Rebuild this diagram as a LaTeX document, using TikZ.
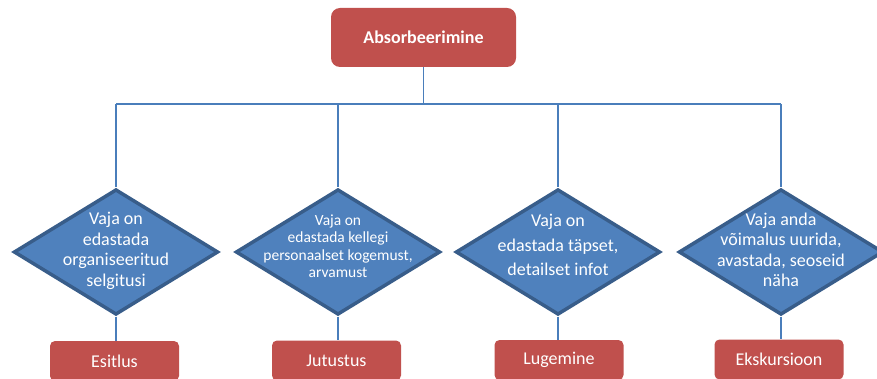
\documentclass[tikz,border=0pt]{standalone}
\usepackage{fontspec}
\setmainfont{Carlito}
\usetikzlibrary{shapes.geometric}
\definecolor{boxred}{HTML}{C0504D}
\definecolor{qblue}{HTML}{4F81BD}
\definecolor{qedge}{HTML}{385D8A}
\definecolor{wirecol}{HTML}{4A7EBB}
\begin{document}
\begin{tikzpicture}[x=1pt,y=-1pt,
  topbox/.style={fill=boxred, rounded corners=9pt, minimum width=185pt, minimum height=59pt,
    inner sep=0pt, text=white, font=\fontsize{18}{21}\selectfont\bfseries},
  answer/.style={fill=boxred, rounded corners=5pt, minimum width=129pt, minimum height=40pt,
    inner sep=0pt, text=white, font=\fontsize{18}{21}\selectfont},
  decision/.style={diamond, draw=qedge, line width=3.5pt, fill=qblue,
    minimum width=204.5pt, minimum height=125.5pt, inner sep=0pt},
  qtext/.style={text=white, align=center, inner sep=0pt},
  wire/.style={draw=wirecol, line width=1.8pt}]
  \useasboundingbox (0,0) rectangle (877,379);
  \clip (0,0) rectangle (877,379);

  % shapes
  \coordinate (busL) at (116,104);
  \coordinate (busR) at (781,104);
  \node[topbox] (top) at (423.5,37.5) {Absorbeerimine};
  \node[decision] (d1) at (116,252) {};
  \node[decision] (d2) at (338,252) {};
  \node[decision] (d3) at (558,252) {};
  \node[decision] (d4) at (781,252) {};
  \node[answer] (a1) at (114.5,361) {Esitlus};
  \node[answer] (a2) at (336.5,360.5) {Jutustus};
  \node[answer] (a3) at (559,360) {Lugemine};
  \node[answer] (a4) at (779,359.5) {Ekskursioon};

  % connectors: bus line, drops to the questions, stubs to the answers
  \draw[wire] (busL) -- (busR);
  \draw[wire] (top.south) -- (top.south |- busL);
  \foreach \i in {1,2,3,4}{
    \draw[wire] (d\i.north |- busL) -- (d\i.north);
    \draw[wire] (d\i.south) -- (d\i.south |- a\i.north);
  }

  % question texts
  \node[qtext, font=\fontsize{18}{20.5}\selectfont] (t1) at (116,251)
    {Vaja on\\edastada\\organiseeritud\\selgitusi};
  \node[qtext, font=\fontsize{15.5}{17.5}\selectfont] (t2) at (338,246)
    {Vaja on\\edastada kellegi\\personaalset kogemust,\\arvamust};
  \node[qtext, font=\fontsize{18}{24.5}\selectfont] (t3) at (558,245)
    {Vaja on\\edastada täpset,\\detailset infot};
  \node[qtext, font=\fontsize{18}{20.5}\selectfont] (t4) at (781,250)
    {Vaja anda\\võimalus uurida,\\avastada, seoseid\\näha};
\end{tikzpicture}
\end{document}
